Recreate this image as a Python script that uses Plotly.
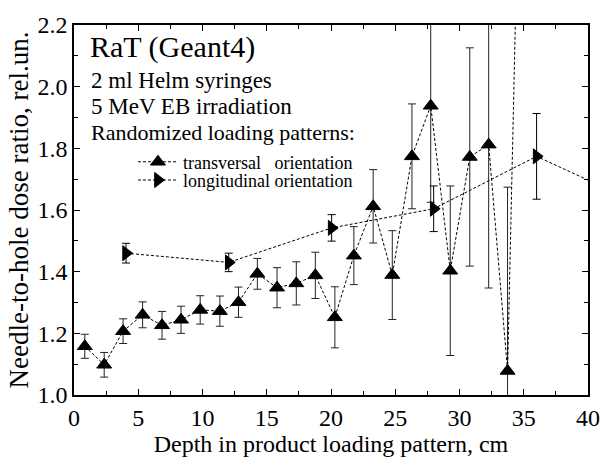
import plotly.graph_objects as go

# Transversal orientation (triangle-up)
trans_x = [0.84, 2.35, 3.82, 5.34, 6.85, 8.33, 9.82, 11.35, 12.8, 14.27, 15.8, 17.3,
           18.78, 20.3, 21.78, 23.28, 24.77, 26.3, 27.76, 29.28, 30.8, 32.27, 33.74, 35.23]
trans_y = [1.158, 1.098, 1.207, 1.26, 1.226, 1.244, 1.276, 1.272, 1.301, 1.393, 1.348, 1.362,
           1.388, 1.252, 1.452, 1.612, 1.389, 1.774, 1.938, 1.403, 1.772, 1.812, 1.078, 3.85]
trans_err = [0.039, 0.04, 0.04, 0.042, 0.045, 0.044, 0.046, 0.049, 0.049, 0.05, 0.065, 0.07,
             0.075, 0.099, 0.094, 0.119, 0.144, 0.17, 0.313, 0.275, 0.354, 0.465, 0.596, 0.7]

# Longitudinal orientation (triangle-right)
long_x = [4.05, 12.04, 20.05, 27.99, 36.0, 44.0]
long_y = [1.46, 1.43, 1.542, 1.604, 1.774, 1.62]
long_err = [0.032, 0.03, 0.043, 0.074, 0.139, 0.15]

x_ticks = [0, 5, 10, 15, 20, 25, 30, 35, 40]
y_ticks = [1.0, 1.2, 1.4, 1.6, 1.8, 2.0, 2.2]

FONT = "Liberation Serif"
W, H = 612, 459
L, R, T, B = 74, 15, 15, 58
PW, PH = W - L - R, H - T - B


def px(xp):
    return (xp - L) / PW


def py(yp):
    return 1 - (yp - T) / PH


fig = go.Figure()
fig.add_trace(go.Scatter(
    x=trans_x, y=trans_y, mode="lines+markers",
    name="transversal\u00a0\u00a0\u00a0orientation", legend="legend",
    line=dict(color="black", width=1, dash="3px,2px"),
    marker=dict(symbol="triangle-up", size=13, color="black",
                line=dict(color="black", width=1)),
    error_y=dict(type="data", array=trans_err, visible=True,
                 color="#222222", thickness=1, width=4),
))
fig.add_trace(go.Scatter(
    x=long_x, y=long_y, mode="lines+markers",
    name="longitudinal orientation", legend="legend2",
    line=dict(color="black", width=1, dash="3px,2px"),
    marker=dict(symbol="triangle-right", size=13, color="black",
                line=dict(color="black", width=1)),
    error_y=dict(type="data", array=long_err, visible=True,
                 color="black", thickness=1, width=4),
))

axis_common = dict(
    showline=True, linecolor="black", linewidth=1.5, mirror="ticks",
    ticks="inside", ticklen=6, tickwidth=1.2, tickcolor="black",
    showgrid=False, zeroline=False,
    tickfont=dict(family=FONT, size=24, color="black"),
)

fig.update_xaxes(
    range=[0, 40], tickvals=x_ticks, ticktext=[str(v) for v in x_ticks],
    title=dict(text="Depth in product loading pattern, cm",
               font=dict(family=FONT, size=24, color="black"), standoff=0),
    minor=dict(ticks="inside", ticklen=4, tickwidth=1.2, tickcolor="black", dtick=2.5),
    **axis_common,
)
fig.update_yaxes(
    range=[1.0, 2.2], tickvals=y_ticks, ticktext=["%.1f" % v for v in y_ticks],
    title=dict(text="Needle-to-hole dose ratio, rel.un.",
               font=dict(family=FONT, size=27, color="black"), standoff=1),
    minor=dict(ticks="inside", ticklen=4, tickwidth=1.2, tickcolor="black", dtick=0.1),
    **axis_common,
)

texts = [
    ("RaT (Geant4)", 30, 88, 38),
    ("2 ml Helm syringes", 23, 89, 73),
    ("5 MeV EB irradiation", 23, 89, 100),
    ("Randomized loading patterns:", 22, 89, 127),
]
for t, s, xx, yy in texts:
    fig.add_annotation(text=t, xref="paper", yref="paper", x=px(xx), y=py(yy),
                       xanchor="left", yanchor="middle", showarrow=False,
                       font=dict(family=FONT, size=s, color="black"))

leg_common = dict(xanchor="left", yanchor="middle", bgcolor="rgba(0,0,0,0)",
                  borderwidth=0, font=dict(family=FONT, size=18, color="black"),
                  itemwidth=40)

fig.update_layout(
    width=W, height=H,
    margin=dict(l=L, r=R, t=T, b=B),
    paper_bgcolor="white", plot_bgcolor="white",
    font=dict(family=FONT, color="black"),
    showlegend=True,
    legend=dict(x=px(134), y=py(158), **leg_common),
    legend2=dict(x=px(134), y=py(177), **leg_common),
)

fig.write_html("out.html")
